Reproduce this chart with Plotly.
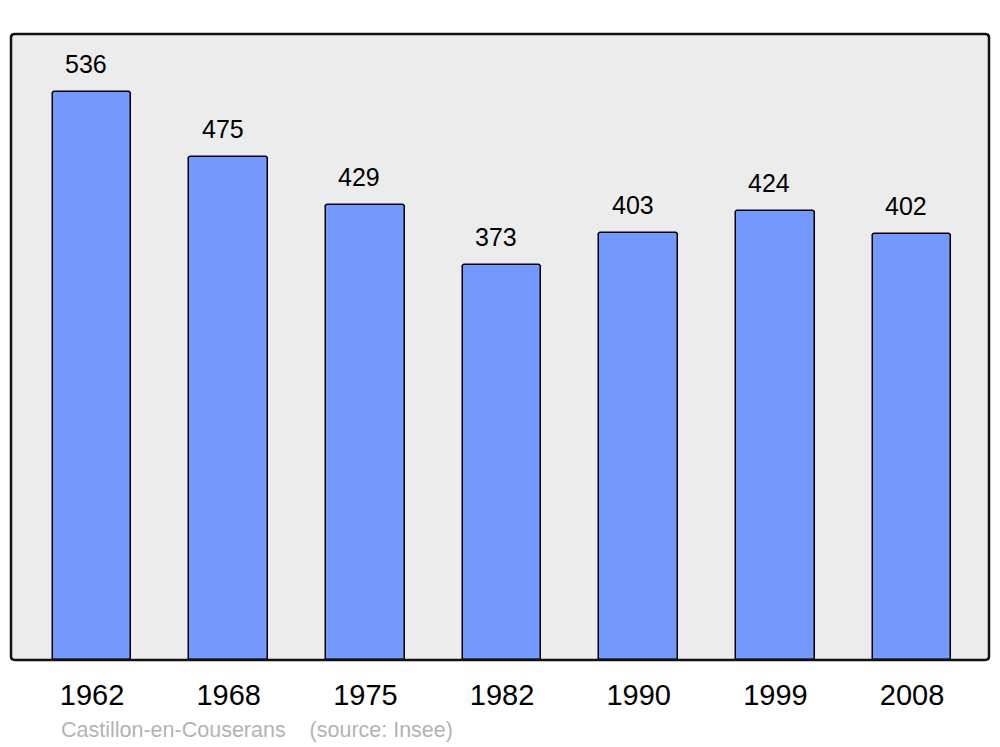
import plotly.graph_objects as go

years = ["1962", "1968", "1975", "1982", "1990", "1999", "2008"]
population = [536, 475, 429, 373, 403, 424, 402]
footer = "Castillon-en-Couserans    (source: Insee)"

W, H = 1000, 747
# the page body adds an 8px offset, so margins are shifted to compensate
L, R, T, B = 3, 19, 26, 95

fig = go.Figure()
xs = list(range(len(years)))
fig.add_trace(go.Bar(
    x=xs, y=population,
    width=0.575,
    marker=dict(color="#7399ff", line=dict(color="#000000", width=1.5), cornerradius=3),
    hoverinfo="x+y",
))

for x, v in zip(xs, population):
    fig.add_annotation(x=x, y=v, text=str(v), showarrow=False, yshift=28, xshift=-6,
                       font=dict(family="Liberation Sans, Arial", size=25, color="#000000"))

fig.add_annotation(xref="paper", yref="paper", x=(51 - L) / (W - L - R), y=-(722 - (H - B)) / (H - T - B),
                   xanchor="left", yanchor="middle", showarrow=False, text=footer.replace(" ", "&nbsp;"),
                   font=dict(family="Liberation Sans, Arial", size=21.5, color="#b3b3b3"))

# rounded frame around the plot area
fig.add_shape(type="path", xref="paper", yref="paper",
              path="M 0.004,0 L 0.996,0 Q 1,0 1,0.005 L 1,0.995 Q 1,1 0.996,1 L 0.004,1 Q 0,1 0,0.995 L 0,0.005 Q 0,0 0.004,0 Z",
              line=dict(color="#111111", width=2.5), layer="above")

fig.update_layout(
    width=W, height=H,
    margin=dict(l=L, r=R, t=T, b=B),
    paper_bgcolor="#ffffff",
    plot_bgcolor="#ececec",
    showlegend=False,
    bargap=0,
    font=dict(family="Liberation Sans, Arial", color="#000000"),
)
fig.update_xaxes(tickmode="array", tickvals=xs, ticktext=years, range=[-0.593, 6.563],
                 showgrid=False, zeroline=False, showline=False,
                 tickfont=dict(size=29), ticks="", ticklabelstandoff=15)
fig.update_yaxes(range=[0, 590.7], showgrid=False, zeroline=False, showticklabels=False, showline=False)

fig.write_html("out.html")
